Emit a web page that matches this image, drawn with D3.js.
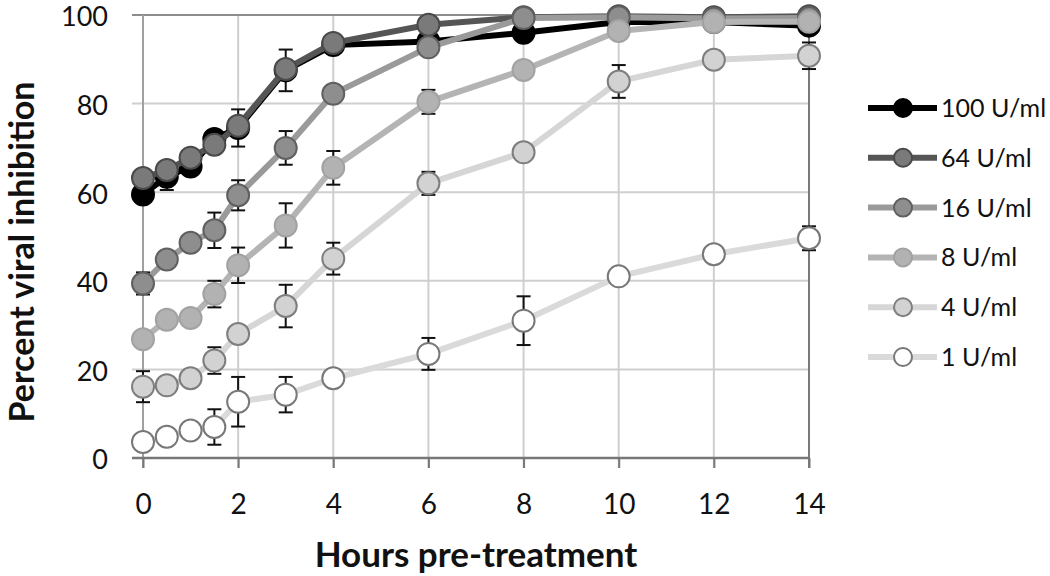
<!DOCTYPE html>
<html>
<head>
<meta charset="utf-8">
<script src="https://cdn.jsdelivr.net/npm/d3@7"></script>
<style>
  body { margin: 0; background: #fff; }
  svg { font-family: Lato, "Open Sans", sans-serif; }
</style>
</head>
<body>
<svg id="chart" width="1050" height="576"></svg>
<script>
// data
const hours = [0, 0.5, 1, 1.5, 2, 3, 4, 6, 8, 10, 12, 14];
const seriesNames = ["100 U/ml", "64 U/ml", "16 U/ml", "8 U/ml", "4 U/ml", "1 U/ml"];

const u100 = [59.5, 63.5, 65.8, 72, 74.5, 87.5, 93.2, 94, 96, 98.4, 98.4, 97.6];
const u64  = [63.2, 65, 67.8, 70.7, 75, 87.8, 93.7, 97.8, 99.5, 99.7, 99.5, 99.7];
const u16  = [39.4, 44.8, 48.6, 51.4, 59.3, 70, 82.2, 92.7, 99.3, 99.5, 99.2, 99.3];
const u8   = [26.8, 31.2, 31.6, 37, 43.5, 52.5, 65.5, 80.4, 87.6, 96.4, 98.4, 98.5];
const u4   = [16.1, 16.4, 18, 22, 28, 34.3, 45, 62, 69, 85, 89.9, 90.8];
const u1   = [3.6, 4.8, 6.2, 7, 12.7, 14.3, 18, 23.5, 31, 41, 46, 49.6];

// +/- error, 0 = no bar visible
const e100 = [0, 3, 0, 0, 4.2, 4.7, 0, 0, 0, 0, 0, 0];
const e64  = [0, 0, 0, 0, 0, 0, 0, 0, 0, 0, 0, 0];
const e16  = [2.5, 0, 0, 4, 3.4, 3.8, 0, 0, 0, 0, 0, 0];
const e8   = [0, 0, 0, 3, 4, 5, 3.8, 2.7, 0, 0, 0, 0];
const e4   = [3.5, 0, 0, 3, 0, 4.8, 3.6, 2.6, 0, 3.7, 0, 3];
const e1   = [0, 0, 0, 4, 5.6, 4, 0, 3.6, 5.5, 0, 0, 2.7];

const xTicks = [0, 2, 4, 6, 8, 10, 12, 14];
const yTicks = [0, 20, 40, 60, 80, 100];

// looks of each series (line, marker fill, marker edge)
const looks = [
  { line: "#000000", fill: "#000000", edge: "#000000" },
  { line: "#555555", fill: "#7a7a7a", edge: "#4a4a4a" },
  { line: "#9a9a9a", fill: "#8e8e8e", edge: "#606060" },
  { line: "#b4b4b4", fill: "#b2b2b2", edge: "#a2a2a2" },
  { line: "#d6d6d6", fill: "#d2d2d2", edge: "#7e7e7e" },
  { line: "#dadada", fill: "#ffffff", edge: "#787878" }
];

const values = [u100, u64, u16, u8, u4, u1];
const errors = [e100, e64, e16, e8, e4, e1];

const series = seriesNames.map((name, i) => ({
  name,
  look: looks[i],
  points: hours.map((h, j) => ({ h, v: values[i][j], e: errors[i][j] }))
}));

const svg = d3.select("#chart");
const x = d3.scaleLinear().domain([0, 14]).range([143, 809]);
const y = d3.scaleLinear().domain([0, 100]).range([458, 15]);

// gridlines
svg.append("g")
  .selectAll("line")
  .data(yTicks.filter(t => t > 0 && t < 100))
  .join("line")
  .attr("x1", x(0) - 11).attr("x2", x(14))
  .attr("y1", d => y(d)).attr("y2", d => y(d))
  .attr("stroke", "#cfcfcf").attr("stroke-width", 2);

svg.append("g")
  .selectAll("line")
  .data(xTicks.filter(t => t > 0 && t < 14))
  .join("line")
  .attr("x1", d => x(d)).attr("x2", d => x(d))
  .attr("y1", y(100)).attr("y2", y(0) + 10)
  .attr("stroke", "#cfcfcf").attr("stroke-width", 2);

// frame
svg.append("line")
  .attr("x1", x(0) - 11).attr("x2", x(14))
  .attr("y1", y(100)).attr("y2", y(100))
  .attr("stroke", "#8c8c8c").attr("stroke-width", 2);
svg.append("line")
  .attr("x1", x(0)).attr("x2", x(0))
  .attr("y1", y(100)).attr("y2", y(0) + 10)
  .attr("stroke", "#a0a0a0").attr("stroke-width", 2);
svg.append("line")
  .attr("x1", x(14)).attr("x2", x(14))
  .attr("y1", y(100)).attr("y2", y(0) + 10)
  .attr("stroke", "#7a7a7a").attr("stroke-width", 2);

// axes
const xAxis = svg.append("g")
  .attr("transform", `translate(0,${y(0)})`)
  .call(d3.axisBottom(x).tickValues(xTicks).tickSize(10).tickSizeOuter(0).tickPadding(26));
xAxis.select(".domain").attr("stroke", "#777").attr("stroke-width", 2.5)
  .attr("d", `M${x(0) - 11},0H${x(14)}`);
xAxis.selectAll(".tick line").attr("stroke", "#777").attr("stroke-width", 2);
xAxis.selectAll(".tick text").attr("font-size", 28).attr("fill", "#111")
  .attr("font-family", "Lato, sans-serif");

const yAxis = svg.append("g")
  .attr("transform", `translate(${x(0)},0)`)
  .call(d3.axisLeft(y).tickValues(yTicks).tickSize(0).tickPadding(35));
yAxis.select(".domain").remove();
yAxis.selectAll(".tick text").attr("font-size", 27).attr("fill", "#111")
  .attr("dy", "0.4em")
  .attr("font-family", "Lato, sans-serif");

// titles
svg.append("text")
  .attr("x", (x(0) + x(14)) / 2).attr("y", 567)
  .attr("text-anchor", "middle")
  .attr("font-size", 35).attr("font-weight", "bold").attr("fill", "#111")
  .text("Hours pre-treatment");

svg.append("text")
  .attr("transform", "translate(34,252) rotate(-90)")
  .attr("text-anchor", "middle")
  .attr("font-size", 34).attr("font-weight", "bold").attr("fill", "#111")
  .text("Percent viral inhibition");

// series
const line = d3.line().x(d => x(d.h)).y(d => y(d.v));
const cap = 7;

series.forEach(s => {
  const g = svg.append("g");
  g.append("path")
    .attr("d", line(s.points))
    .attr("fill", "none")
    .attr("stroke", s.look.line)
    .attr("stroke-width", 6)
    .attr("stroke-linejoin", "round");

  const bars = g.selectAll(".err")
    .data(s.points.filter(p => p.e > 0))
    .join("g");
  bars.append("line")
    .attr("x1", d => x(d.h)).attr("x2", d => x(d.h))
    .attr("y1", d => y(d.v + d.e)).attr("y2", d => y(d.v - d.e));
  bars.append("line")
    .attr("x1", d => x(d.h) - cap).attr("x2", d => x(d.h) + cap)
    .attr("y1", d => y(d.v + d.e)).attr("y2", d => y(d.v + d.e));
  bars.append("line")
    .attr("x1", d => x(d.h) - cap).attr("x2", d => x(d.h) + cap)
    .attr("y1", d => y(d.v - d.e)).attr("y2", d => y(d.v - d.e));
  bars.selectAll("line").attr("stroke", "#111").attr("stroke-width", 2);

  g.selectAll("circle")
    .data(s.points)
    .join("circle")
    .attr("cx", d => x(d.h)).attr("cy", d => y(d.v))
    .attr("r", 11)
    .attr("fill", s.look.fill)
    .attr("stroke", s.look.edge)
    .attr("stroke-width", 2);
});

// legend
const legend = svg.append("g")
  .selectAll("g")
  .data(series)
  .join("g")
  .attr("transform", (d, i) => `translate(0,${108 + i * 49.8})`);
legend.append("line")
  .attr("x1", 868).attr("x2", 937)
  .attr("stroke", d => d.look.line).attr("stroke-width", 6);
legend.append("circle")
  .attr("cx", 903).attr("r", 9)
  .attr("fill", d => d.look.fill)
  .attr("stroke", d => d.look.edge).attr("stroke-width", 2);
legend.append("text")
  .attr("x", 941).attr("dy", "0.36em")
  .attr("font-size", 25).attr("fill", "#111")
  .text(d => d.name);
</script>
</body>
</html>
